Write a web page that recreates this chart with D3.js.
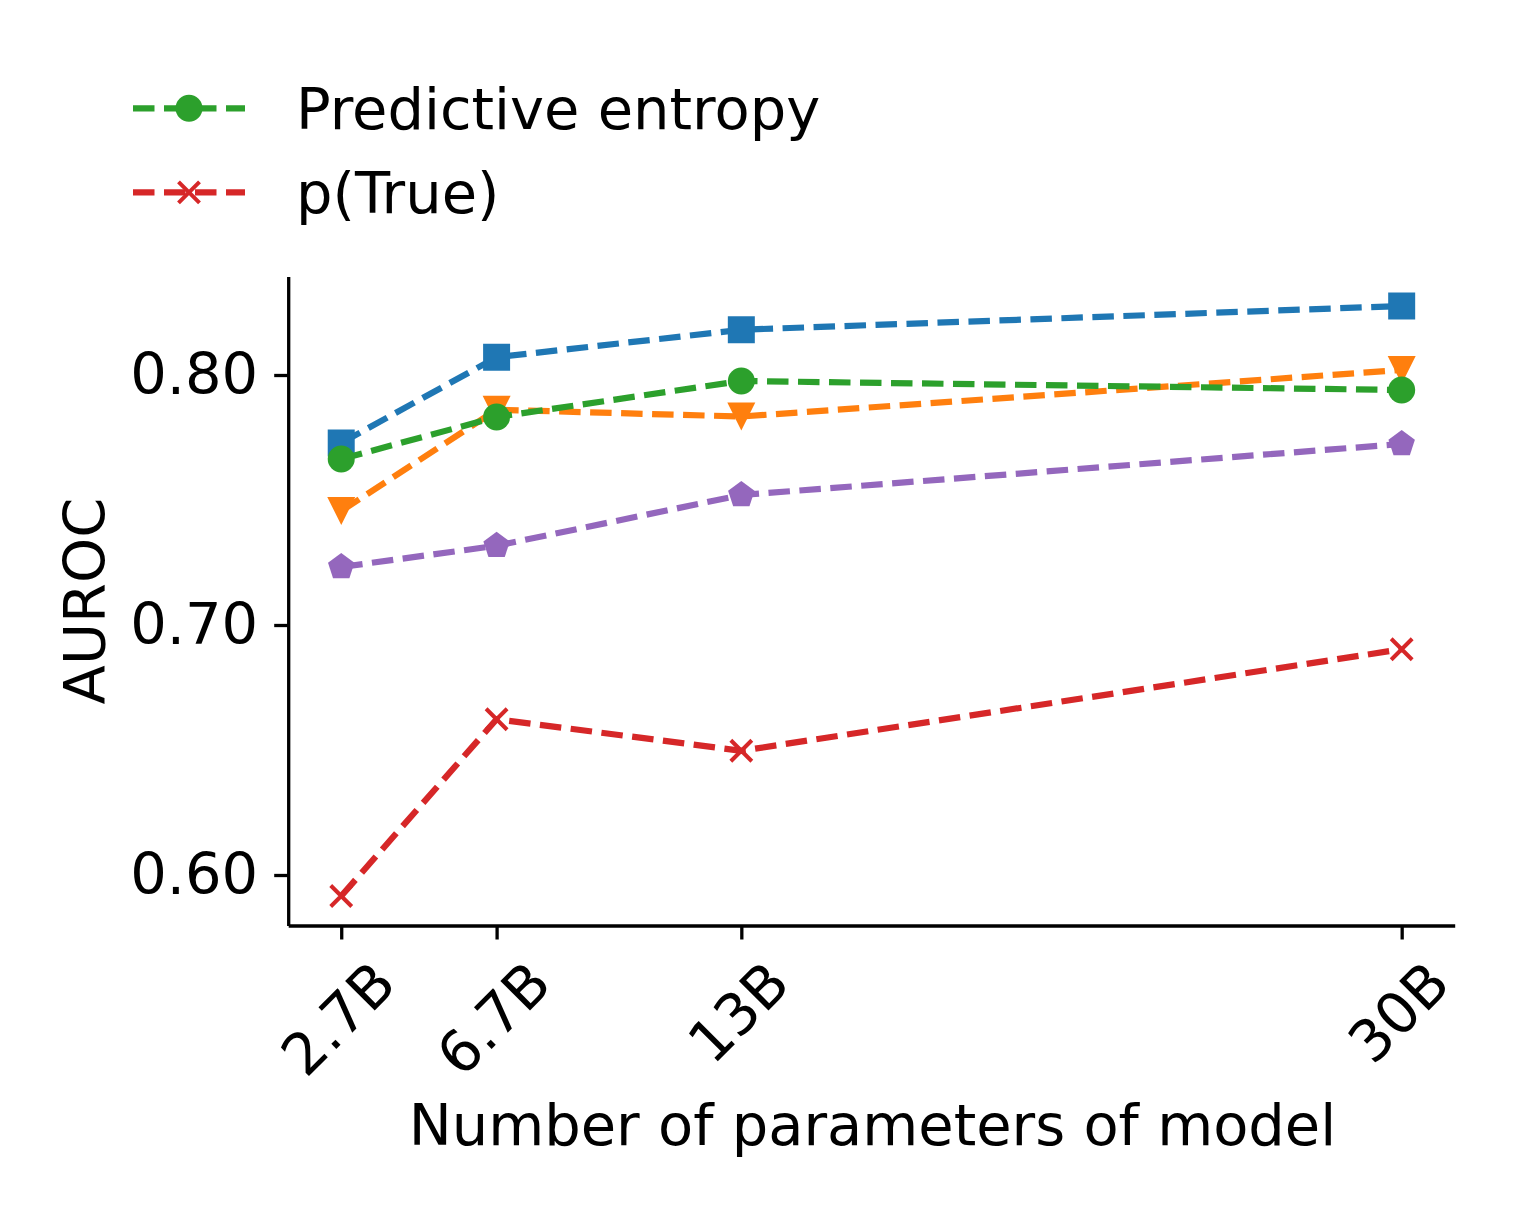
<!DOCTYPE html>
<html>
<head>
<meta charset="utf-8">
<script src="https://cdn.jsdelivr.net/npm/d3@7"></script>
<style>
  body { margin: 0; background: #fff; }
  svg { display: block; }
  text { font-family: "DejaVu Sans", sans-serif; fill: #000; }
</style>
</head>
<body>
<svg id="chart" width="1523" height="1218"></svg>
<script>
// ---------------- data ----------------
const modelSizes = [2.7, 6.7, 13, 30];
const sizeLabels = ["2.7B", "6.7B", "13B", "30B"];
const yTickValues = [0.60, 0.70, 0.80];

const blueSeries   = [0.7728, 0.8071, 0.8181, 0.8276];
const orangeSeries = [0.7456, 0.7861, 0.7834, 0.8020];
const predictiveEntropy = [0.7664, 0.7832, 0.7976, 0.7940];
const pTrue        = [0.5916, 0.6623, 0.6497, 0.6903];
const purpleSeries = [0.7232, 0.7317, 0.7520, 0.7724];

const legendLabels = ["Predictive entropy", "p(True)"];

// ---------------- styling ----------------
const W = 1523, H = 1218;
const plot = { left: 288.2, right: 1454.7, top: 276.5, bottom: 925.5 };
const FONT = 57.5;
const LW = 6.2;
const DASH = "21.5,9.5";

const series = [
  { values: blueSeries,        color: "#1f77b4", marker: "square" },
  { values: orangeSeries,      color: "#ff7f0e", marker: "tri_down" },
  { values: predictiveEntropy, color: "#2ca02c", marker: "circle" },
  { values: pTrue,             color: "#d62728", marker: "x" },
  { values: purpleSeries,      color: "#9467bd", marker: "pentagon" }
];
const legendSeries = [series[2], series[3]];

function markerPath(type) {
  switch (type) {
    case "square": { const s = 13.5; return `M${-s},${-s}H${s}V${s}H${-s}Z`; }
    case "circle": { const r = 13.5; return `M${r},0A${r},${r} 0 1,1 ${-r},0A${r},${r} 0 1,1 ${r},0Z`; }
    case "tri_down": { const s = 14; return `M${-s},${-s}L${s},${-s}L0,${s}Z`; }
    case "pentagon": {
      const R = 13.9;
      const pts = d3.range(5).map(k => {
        const a = (-90 + k * 72) * Math.PI / 180;
        return [R * Math.cos(a), R * Math.sin(a)];
      });
      return "M" + pts.map(p => p.join(",")).join("L") + "Z";
    }
    case "x": { const s = 10.5; return `M${-s},${-s}L${s},${s}M${-s},${s}L${s},${-s}`; }
  }
}
function drawMarker(g, type, color) {
  const p = g.append("path").attr("d", markerPath(type));
  if (type === "x") p.attr("fill", "none").attr("stroke", color).attr("stroke-width", 4);
  else p.attr("fill", color).attr("stroke", "none");
  return p;
}

// ---------------- scales ----------------
const xMin = d3.min(modelSizes), xMax = d3.max(modelSizes);
const xPad = (xMax - xMin) * 0.05;
const x = d3.scaleLinear().domain([xMin - xPad, xMax + xPad]).range([plot.left, plot.right]);

const allY = series.flatMap(s => s.values);
const yMin = d3.min(allY), yMax = d3.max(allY);
const yPad = (yMax - yMin) * 0.05;
const y = d3.scaleLinear().domain([yMin - yPad, yMax + yPad]).range([plot.bottom, plot.top]);

const svg = d3.select("#chart");
svg.append("rect").attr("width", W).attr("height", H).attr("fill", "#fff");

// ---------------- lines & markers ----------------
const line = d3.line().x((d, i) => x(modelSizes[i])).y(d => y(d));
series.forEach(s => {
  const g = svg.append("g");
  g.append("path")
    .attr("d", line(s.values))
    .attr("fill", "none")
    .attr("stroke", s.color)
    .attr("stroke-width", LW)
    .attr("stroke-dasharray", DASH);
  s.values.forEach((v, i) => {
    const mg = g.append("g").attr("transform", `translate(${x(modelSizes[i])},${y(v)})`);
    drawMarker(mg, s.marker, s.color);
  });
});

// ---------------- axes ----------------
const xAxis = d3.axisBottom(x)
  .tickValues(modelSizes)
  .tickFormat((d, i) => sizeLabels[i])
  .tickSize(14)
  .tickSizeOuter(0);
const gx = svg.append("g").attr("transform", `translate(0,${plot.bottom})`).call(xAxis);
gx.select(".domain").attr("stroke", "#000").attr("stroke-width", 3.3);
gx.selectAll(".tick line").attr("stroke", "#000").attr("stroke-width", 3.3);
gx.selectAll(".tick text")
  .style("font-size", FONT + "px")
  .attr("font-family", "DejaVu Sans")
  .attr("fill", "#000")
  .attr("text-anchor", "middle")
  .attr("x", 0).attr("y", 0)
  .attr("dy", "0.36em")
  .attr("transform", function () {
    const w = this.getComputedTextLength();
    const cy = 22.5 + (w + 67.5) / (2 * Math.SQRT2);
    return `translate(-4,${cy}) rotate(-45)`;
  });

const yAxis = d3.axisLeft(y)
  .tickValues(yTickValues)
  .tickFormat(d3.format(".2f"))
  .tickSize(14)
  .tickPadding(16)
  .tickSizeOuter(0);
const gy = svg.append("g").attr("transform", `translate(${plot.left},0)`).call(yAxis);
gy.select(".domain").attr("stroke", "#000").attr("stroke-width", 3.3);
gy.selectAll(".tick line").attr("stroke", "#000").attr("stroke-width", 3.3);
gy.selectAll(".tick text")
  .style("font-size", FONT + "px")
  .attr("font-family", "DejaVu Sans")
  .attr("fill", "#000");

// ---------------- axis titles ----------------
svg.append("text")
  .attr("x", (plot.left + plot.right) / 2 + 1)
  .attr("y", 1145)
  .attr("text-anchor", "middle")
  .style("font-size", FONT + "px")
  .text("Number of parameters of model");

svg.append("text")
  .attr("transform", `translate(105,${(plot.top + plot.bottom) / 2}) rotate(-90)`)
  .attr("text-anchor", "middle")
  .style("font-size", FONT + "px")
  .text("AUROC");

// ---------------- legend ----------------
const legendRows = [108.3, 192.3];
legendSeries.forEach((s, i) => {
  const g = svg.append("g").attr("transform", `translate(0,${legendRows[i]})`);
  g.append("line")
    .attr("x1", 133).attr("x2", 245).attr("y1", 0).attr("y2", 0)
    .attr("stroke", s.color).attr("stroke-width", LW)
    .attr("stroke-dasharray", DASH);
  const mg = g.append("g").attr("transform", "translate(189,0)");
  drawMarker(mg, s.marker, s.color);
  g.append("text")
    .attr("x", 296).attr("y", 20.5)
    .style("font-size", FONT + "px")
    .text(legendLabels[i]);
});
</script>
</body>
</html>
